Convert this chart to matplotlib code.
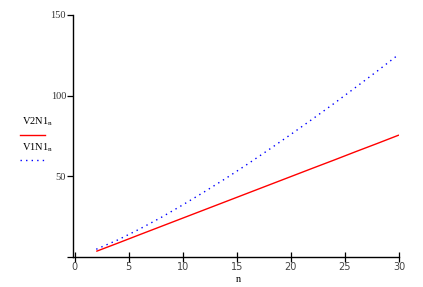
import matplotlib
matplotlib.use("Agg")
import matplotlib.pyplot as plt
from matplotlib.lines import Line2D

n = [2, 4, 6, 8, 10, 12, 14, 16, 18, 20, 22, 24, 26, 28, 30]
V2N1 = [3.5, 8.6, 13.8, 18.95, 24.1, 29.25, 34.4, 39.55, 44.7, 49.85, 55.0, 60.1, 65.3, 70.4, 75.6]
V1N1 = [4.8, 10.6, 17.3, 24.5, 32.3, 40.4, 48.8, 57.6, 66.7, 76.0, 85.5, 95.2, 105.2, 115.3, 125.7]
xticks = [0, 5, 10, 15, 20, 25, 30]
yticks = [0, 50, 100, 150]
ytick_labels = ["", "50", "100", "150"]

plt.rcParams['font.family'] = ['Liberation Serif', 'DejaVu Serif']
fig = plt.figure(figsize=(4.23, 2.87), dpi=100)
ax = fig.add_axes([73/423, 1-257/287, 326/423, 242/287])
ax.plot(n, V2N1, color='#ff0000', lw=1.0, solid_capstyle='butt')
ax.plot(n, V1N1, color='#0000ff', lw=1.0, linestyle=(0, (1, 3)))
ax.set_xlim(-0.15, 30)
ax.set_ylim(0, 150)
ax.set_xticks(xticks)
ax.set_yticks(yticks)
ax.set_yticklabels(ytick_labels)
for s in ['top', 'right']:
    ax.spines[s].set_visible(False)
for s in ['left', 'bottom']:
    ax.spines[s].set_linewidth(1.0)
ax.tick_params(axis='x', direction='inout', length=7, width=0.9, labelsize=7.5, pad=0,
               colors='black', labelcolor='#444444')
ax.tick_params(axis='y', direction='out', length=4, width=0.9, labelsize=7.5, pad=1,
               colors='black', labelcolor='#333333')
for lab in ax.get_xticklabels():
    lab.set_family(['DejaVu Sans'])
    lab.set_fontsize(7)
fig.text(238/423, 1-280/287, 'n', fontsize=7.5, va='center', ha='center')

fig.text(22/423, 1-122/287, r'V2N1$_\mathregular{n}$', fontsize=7.5, va='center', ha='left')
fig.add_artist(Line2D([20/423, 45/423], [1-135/287, 1-135/287], color='#ff0000', lw=1.0))
fig.text(22/423, 1-148/287, r'V1N1$_\mathregular{n}$', fontsize=7.5, va='center', ha='left')
fig.add_artist(Line2D([20/423, 45/423], [1-160/287, 1-160/287], color='#0000ff', lw=1.0, linestyle=(0, (1, 3))))

fig.savefig('out.png', dpi=100)
